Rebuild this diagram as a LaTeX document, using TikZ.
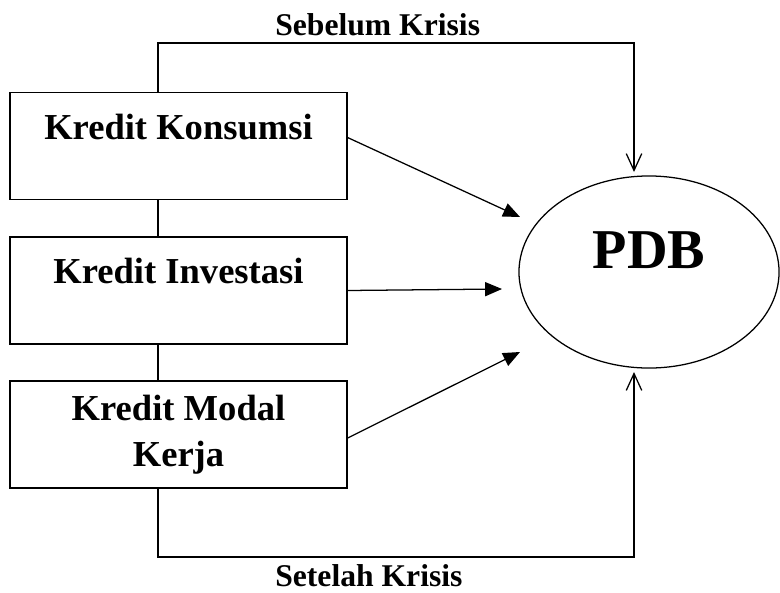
\documentclass[tikz,border=0pt]{standalone}
\usepackage{fontspec}
\setmainfont{Liberation Serif}
\usetikzlibrary{arrows.meta,shapes.geometric}

\begin{document}
\begin{tikzpicture}[x=0.025cm, y=-0.025cm,
    kotak/.style={draw, line width=0.9pt, minimum width=8.425cm, minimum height=2.675cm,
      align=center, font=\fontsize{26}{32.7}\selectfont\bfseries},
    garis/.style={line width=0.9pt},
    panah/.style={line width=0.9pt, -{Triangle[length=12pt,width=10pt]}},
    panahv/.style={line width=0.9pt, -{Straight Barb[length=12pt,width=11pt]}},
    ket/.style={anchor=west, inner sep=0pt, font=\fontsize{22.5}{27}\selectfont\bfseries}]
    \useasboundingbox (0,0) rectangle (780,592);

    \node[kotak, text depth=28pt] (kk) at (178.5,146) {Kredit Konsumsi};
    \node[kotak, text depth=28pt] (ki) at (178.5,290.5) {Kredit Investasi};
    \node[kotak] (km) at (178.5,434.5) {Kredit Modal\\Kerja};
    \node[draw, ellipse, line width=0.9pt, minimum width=6.5cm, minimum height=4.8cm,
      text depth=31pt, font=\fontsize{40}{48}\selectfont\bfseries] (pdb) at (649,272) {PDB};

    \node[ket] (lsb) at (275,25) {Sebelum Krisis};
    \node[ket] (lst) at (275,576) {Setelah Krisis};

    \coordinate (sb) at (158,43);
    \coordinate (st) at (158,557);
    \coordinate (ta) at (634,172);
    \coordinate (tb) at (634,372);
    \coordinate (t1) at (520,217);
    \coordinate (t2) at (502,289);
    \coordinate (t3) at (520,352);

    % garis antar kotak
    \draw[garis] (kk.south -| sb) -- (ki.north -| sb);
    \draw[garis] (ki.south -| sb) -- (km.north -| sb);

    % sebelum dan setelah krisis
    \draw[panahv] (kk.north -| sb) -- (sb) -| (ta);
    \draw[panahv] (km.south -| sb) -- (st) -| (tb);

    \draw[panah] ([yshift=6pt]kk.east) -- (t1);
    \draw[panah] (ki.east) -- (t2);
    \draw[panah] ([yshift=-2.5pt]km.east) -- (t3);
  \end{tikzpicture}
\end{document}
